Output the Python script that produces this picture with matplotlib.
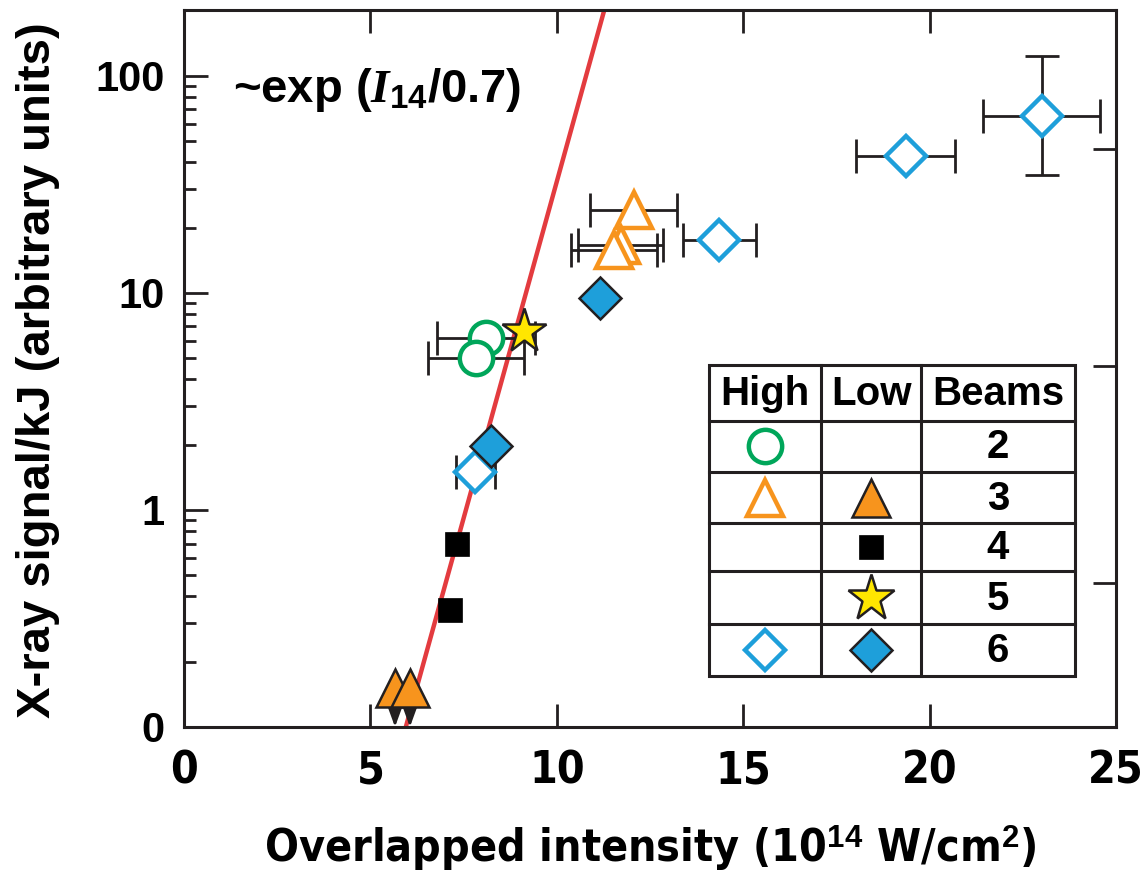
import numpy as np
import matplotlib.pyplot as plt
from matplotlib import font_manager
from matplotlib.font_manager import FontProperties
from matplotlib.lines import Line2D
from matplotlib.patches import Rectangle

# ---- data (x: 1e14 W/cm2, y: x-ray signal/kJ) ----
hi2_x = [8.10, 7.83]
hi2_y = [6.2, 5.0]
hi2_xerr = [1.32, 1.29]

hi3_x = [12.06, 11.72, 11.54]
hi3_y = [24.0, 16.7, 15.7]
hi3_xerr = [1.17, 1.14, 1.15]

lo3_x = [5.66, 6.06]          # upper limits (arrows down)
lo3_y = [0.151, 0.151]

lo4_x = [7.33, 7.14]
lo4_y = [0.70, 0.346]

lo5_x = [9.12]
lo5_y = [6.7]

hi6_x = [7.81, 14.36, 19.36, 23.01]
hi6_y = [1.49, 17.5, 42.7, 65.4]
hi6_xerr = [0.52, 0.97, 1.33, 1.57]
hi6_ylow = 35.1                # y error on last point only
hi6_yhigh = 123.0

lo6_x = [8.23, 11.16]
lo6_y = [1.97, 9.48]

# fit ~exp(I14/0.7)
fit_x0 = 5.95
fit_y0 = 0.1
fit_scale = 0.7

yticks = [0.1, 1, 10, 100]
yticklabels = ['0', '1', '10', '100']
xticks = [0, 5, 10, 15, 20, 25]
right_ticks = [0.46, 4.6, 46]

# ---- style ----
sans = 'Liberation Sans'
narrow_fp = None
for f in font_manager.fontManager.ttflist:
    cond = ('Narrow' in f.name or 'Condensed' in f.name
            or f.stretch in ('condensed', 'semi-condensed'))
    if cond and f.weight in (700, 'bold') and 'Serif' not in f.name and 'Mono' not in f.name:
        narrow_fp = f.fname
        break

def nprop(size):
    if narrow_fp:
        return FontProperties(fname=narrow_fp, size=size)
    return FontProperties(family=sans, weight='bold', size=size * 0.9)

plt.rcParams['font.family'] = [sans, 'DejaVu Sans']
plt.rcParams['font.weight'] = 'bold'
plt.rcParams['mathtext.fontset'] = 'custom'
plt.rcParams['mathtext.bf'] = sans + ':bold'
plt.rcParams['mathtext.rm'] = sans + ':bold'
plt.rcParams['mathtext.it'] = 'Liberation Serif:italic:bold'

INK = '#231F20'
GREEN = '#00A65A'
ORANGE = '#F7941D'
BLUE = '#1E9FDA'
YELLOW = '#FFE600'
RED = '#E33B3F'

W, H = 1142, 875
fig = plt.figure(figsize=(W / 100, H / 100), dpi=100)
ax = fig.add_axes([184 / W, 1 - 727 / H, (1116 - 184) / W, (727 - 10) / H])

ax.set_xlim(0, 25)
ax.set_yscale('log')
ax.set_ylim(0.1, 201)

# fit line
fx = np.linspace(fit_x0, 12, 50)
ax.plot(fx, fit_y0 * np.exp((fx - fit_x0) / fit_scale), color=RED, lw=3.2, zorder=1)

eb = dict(fmt='none', ecolor=INK, elinewidth=2, capsize=12, capthick=2, zorder=2)
ax.errorbar(hi2_x, hi2_y, xerr=hi2_xerr, **eb)
ax.errorbar(hi3_x, hi3_y, xerr=hi3_xerr, **eb)
ax.errorbar(hi6_x, hi6_y, xerr=hi6_xerr, **eb)
ax.errorbar(hi6_x[-1:], hi6_y[-1:],
            yerr=[[hi6_y[-1] - hi6_ylow], [hi6_yhigh - hi6_y[-1]]], **eb)

# arrows for upper limits
for x, y in zip(lo3_x, lo3_y):
    ax.annotate('', xy=(x, 0.1), xytext=(x, y),
                arrowprops=dict(arrowstyle='-|>,head_length=1.1,head_width=0.4',
                                color=INK, lw=2, shrinkA=0, shrinkB=0), zorder=2)

ax.plot(hi2_x, hi2_y, 'o', ms=24, mfc='white', mec=GREEN, mew=3.2, ls='none', zorder=3)
ax.plot(hi3_x, hi3_y, '^', ms=26, mfc='white', mec=ORANGE, mew=3.2, ls='none', zorder=3)
ax.plot(lo3_x, lo3_y, '^', ms=27, mfc=ORANGE, mec=INK, mew=1.8, ls='none', zorder=3)
ax.plot(lo4_x, lo4_y, 's', ms=17, mfc='black', mec='black', mew=0.5, ls='none', zorder=3)
ax.plot(lo5_x, lo5_y, '*', ms=33, mfc=YELLOW, mec=INK, mew=1.8, ls='none', zorder=3)
ax.plot(hi6_x, hi6_y, 'D', ms=20, mfc='white', mec=BLUE, mew=3.2, ls='none', zorder=3)
ax.plot(lo6_x, lo6_y, 'D', ms=21, mfc=BLUE, mec=INK, mew=1.8, ls='none', zorder=3)

# axes styling
for s in ax.spines.values():
    s.set_linewidth(2.2)
    s.set_color(INK)
ax.set_xticks(xticks)
ax.set_xticklabels([str(t) for t in xticks], fontproperties=nprop(32))
ax.set_yticks(yticks)
ax.set_yticklabels(yticklabels, fontsize=30, fontweight='bold')
ax.tick_params(axis='x', which='major', direction='in', length=16.5, width=2, color=INK,
               top=True, bottom=True, pad=16)
ax.tick_params(axis='y', which='major', direction='in', length=17, width=2, color=INK,
               left=True, right=False, pad=14)
ax.tick_params(axis='y', which='minor', direction='in', length=8.5, width=2, color=INK,
               left=True, right=False)

ax2 = ax.twinx()
ax2.set_yscale('log')
ax2.set_ylim(ax.get_ylim())
ax2.set_yticks(right_ticks)
ax2.set_yticklabels([])
ax2.yaxis.set_minor_locator(plt.NullLocator())
ax2.tick_params(axis='y', direction='in', length=16.5, width=2, color=INK)
for s in ax2.spines.values():
    s.set_visible(False)

fig.text(38 / W, 1 - 370 / H, 'X-ray signal/kJ (arbitrary units)', rotation=90,
         ha='center', va='center', fontsize=34, fontweight='bold')
fig.text(650 / W, 1 - 848 / H, 'Overlapped intensity (10$^{\\mathbf{14}}$ W/cm$^{\\mathbf{2}}$)',
         ha='center', va='center', fontproperties=nprop(32))
fig.text(233 / W, 1 - 102 / H, '~exp ($\\mathit{I}_{\\mathbf{14}}$/0.7)',
         ha='left', va='baseline', fontsize=34, fontweight='bold')

# ---- symbol table ----
def fp(x, y):
    return x / W, 1 - y / H

tl, tr, tt, tb = 709, 1075, 365, 676
cols = [709, 821, 921, 1075]
rows = [365, 421, 472, 523, 571, 624, 676]
x0, y0 = fp(tl, tb)
x1, y1 = fp(tr, tt)
fig.add_artist(Rectangle((x0, y0), x1 - x0, y1 - y0, transform=fig.transFigure,
                         fc='white', ec=INK, lw=2.2, zorder=5))
for c in cols[1:-1]:
    a, b = fp(c, tt)
    _, d = fp(c, tb)
    fig.add_artist(Line2D([a, a], [b, d], transform=fig.transFigure, color=INK, lw=2.2, zorder=6))
for r in rows[1:-1]:
    a, b = fp(tl, r)
    c, _ = fp(tr, r)
    fig.add_artist(Line2D([a, c], [b, b], transform=fig.transFigure, color=INK, lw=2.2, zorder=6))

cx = [(cols[i] + cols[i + 1]) / 2 for i in range(3)]
cy = [(rows[i] + rows[i + 1]) / 2 for i in range(6)]
for name, x in zip(['High', 'Low', 'Beams'], cx):
    fig.text(*fp(x, cy[0] + 1), name, ha='center', va='center', fontsize=29,
             fontweight='bold', zorder=7)
for n, y in zip(['2', '3', '4', '5', '6'], cy[1:]):
    fig.text(*fp(cx[2], y + 1), n, ha='center', va='center', fontsize=29,
             fontweight='bold', zorder=7)

def sym(x, y, **kw):
    a, b = fp(x, y)
    fig.add_artist(Line2D([a], [b], transform=fig.transFigure, ls='none', zorder=7, **kw))

sym(cx[0], cy[1], marker='o', ms=24, mfc='white', mec=GREEN, mew=3.2)
sym(cx[0], cy[2], marker='^', ms=26, mfc='white', mec=ORANGE, mew=3.2)
sym(cx[1], cy[2], marker='^', ms=27, mfc=ORANGE, mec=INK, mew=1.8)
sym(cx[1], cy[3], marker='s', ms=17, mfc='black', mec='black', mew=0.5)
sym(cx[1], cy[4], marker='*', ms=35, mfc=YELLOW, mec=INK, mew=1.8)
sym(cx[0], cy[5], marker='D', ms=20, mfc='white', mec=BLUE, mew=3.2)
sym(cx[1], cy[5], marker='D', ms=21, mfc=BLUE, mec=INK, mew=1.8)

fig.savefig('out.png', dpi=100)
